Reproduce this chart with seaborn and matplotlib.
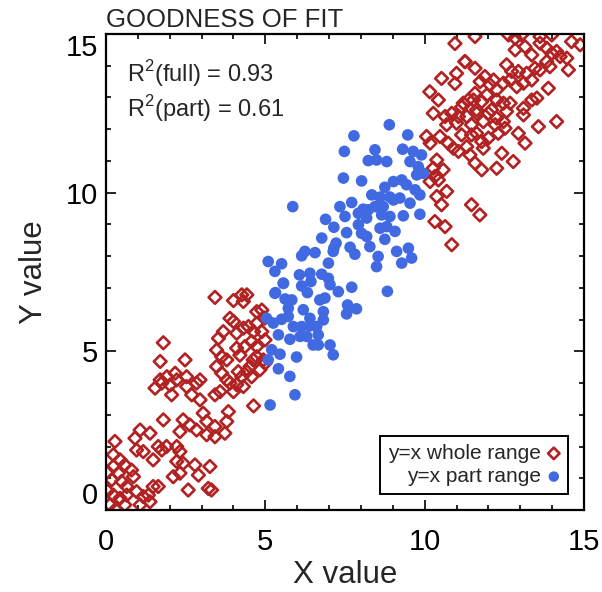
import numpy as np
import matplotlib
matplotlib.use("Agg")
import matplotlib.pyplot as plt
from matplotlib.ticker import MultipleLocator
import seaborn as sns

# whole range points (x, y)
whole_pts = [
    (1.54, 3.84), (1.75, 4.00), (2.06, 3.63), (2.01, 3.94), (2.53, 3.89), (2.69, 3.63), (2.95, 3.47), (2.84, 4.00),
    (3.42, 3.63), (3.58, 3.73), (3.89, 4.00), (4.00, 3.73),
    (1.80, 2.84), (2.42, 2.84), (2.63, 2.68), (2.32, 2.47), (2.84, 2.52), (3.05, 3.05), (3.16, 2.79), (3.16, 2.37),
    (3.42, 2.31), (3.42, 2.63), (3.79, 2.79), (3.84, 3.10), (3.73, 2.42),
    (1.07, 2.52), (1.38, 2.42), (0.91, 2.26), (0.96, 1.89), (1.17, 1.84), (1.48, 1.58), (1.64, 2.00), (1.75, 1.89),
    (1.90, 2.00), (2.22, 2.00), (2.32, 1.84), (2.22, 1.53), (2.42, 1.47),
    (0.28, 2.16), (0.23, 1.74), (0.44, 1.58), (0.59, 1.42), (0.80, 1.26), (0.23, 1.37), (0.39, 1.16), (0.86, 1.05),
    (0.18, 0.95), (0.49, 0.90), (0.65, 0.74), (0.96, 0.58), (0.23, 0.47),
    (0.44, 0.37), (0.65, 0.47), (0.12, 0.16), (0.59, 0.16), (1.17, 0.42), (1.33, 0.47), (1.48, 0.74), (1.64, 0.74),
    (1.38, 0.26), (1.07, 0.16), (0.05, 1.20), (0.05, 0.60), (0.30, 0.02),
    (2.11, 1.05), (2.32, 1.16), (2.79, 1.42), (2.90, 1.10), (2.58, 0.63), (3.26, 1.37), (3.21, 0.68), (3.31, 0.63),
    (3.42, 6.70), (4.00, 6.60), (4.26, 6.78), (4.42, 6.78), (4.31, 6.57), (4.73, 6.25), (4.89, 6.30), (3.89, 6.04),
    (4.00, 5.94), (3.68, 5.62), (3.53, 5.41), (4.10, 5.57), (4.31, 5.73), (4.47, 5.78), (4.73, 5.88), (4.63, 5.62),
    (4.89, 5.62), (4.57, 5.31), (4.73, 5.15), (4.36, 5.15), (4.10, 5.10), (4.73, 4.83), (4.94, 4.73), (1.80, 5.27),
    (1.70, 4.68), (2.48, 4.73), (3.47, 5.04), (3.63, 4.83), (3.79, 4.73), (3.47, 4.52), (3.63, 4.31), (3.79, 4.10),
    (4.15, 4.36), (4.26, 4.20), (4.42, 4.36), (4.52, 4.52), (4.57, 4.20), (1.70, 4.10), (1.91, 4.20), (2.17, 4.31),
    (2.22, 4.10), (2.53, 4.20), (2.95, 4.10), (4.63, 3.28), (4.99, 4.62), (4.83, 4.42), (4.62, 4.73), (4.20, 4.88),
    (4.99, 5.36), (4.99, 6.05), (4.31, 3.89), (4.10, 3.95),
    (10.27, 12.50), (10.64, 12.40), (10.85, 12.50), (11.06, 12.40), (11.32, 12.40), (11.63, 12.50), (12.00, 12.50),
    (12.26, 12.35), (12.57, 12.56), (13.10, 12.45),
    (10.69, 12.14), (11.00, 12.19), (11.47, 12.14), (11.84, 12.24), (12.21, 12.14), (12.47, 12.24),
    (10.06, 11.77), (10.48, 11.77), (11.16, 11.82), (11.47, 11.82), (11.63, 11.87), (12.00, 11.72), (12.31, 11.87),
    (12.52, 12.03), (12.94, 11.87), (13.15, 11.56),
    (10.17, 11.56), (10.74, 11.56), (10.90, 11.40), (11.06, 11.30), (11.32, 11.45), (11.79, 11.61), (11.84, 11.40),
    (11.42, 11.19), (11.58, 10.93), (11.79, 10.72), (12.42, 11.24), (12.78, 10.98), (12.26, 10.77),
    (10.38, 11.03), (10.27, 10.77), (10.58, 10.72), (10.32, 10.51), (10.43, 10.40), (10.17, 10.35), (10.69, 10.04),
    (10.38, 9.88), (10.53, 9.62), (11.47, 9.62), (11.73, 9.30), (10.32, 9.09), (10.64, 8.93), (10.85, 8.36),
    (10.95, 14.70), (11.26, 14.13), (10.53, 13.60), (10.95, 13.44), (11.00, 13.76), (10.16, 13.18), (10.43, 12.92),
    (11.16, 12.70), (11.37, 12.92),
    (11.58, 14.92), (12.63, 14.97), (12.84, 14.87), (13.04, 14.97), (13.62, 14.92), (13.99, 14.97),
    (12.84, 14.50), (13.15, 14.60), (13.36, 14.34), (13.62, 14.71), (13.83, 14.55), (13.99, 14.39), (14.14, 14.45),
    (14.25, 14.29), (14.61, 14.76), (14.88, 14.66),
    (11.27, 14.13), (11.58, 13.92), (11.89, 13.66), (12.16, 13.55), (12.57, 14.03), (12.73, 13.82), (12.94, 13.82),
    (13.20, 13.76), (13.46, 13.92), (13.62, 13.87), (13.83, 14.13), (13.93, 13.97), (14.46, 14.24), (14.51, 13.87),
    (11.74, 13.50), (12.05, 13.40), (12.26, 13.24), (12.47, 13.45), (12.68, 13.55), (12.89, 13.34), (13.10, 13.45),
    (13.36, 13.55), (13.88, 13.29), (13.36, 12.92), (13.52, 12.98),
    (11.58, 13.13), (11.53, 12.92), (11.79, 12.87), (11.95, 13.08), (12.26, 12.92), (12.47, 12.82), (12.68, 12.82),
    (11.21, 12.82), (11.63, 12.61), (12.10, 12.61), (13.10, 12.66), (13.57, 12.08), (14.14, 12.24),
]

# part range points (x, y)
part_pts = [
    (8.89, 12.14), (7.78, 11.79), (9.47, 11.82), (7.48, 11.30), (8.44, 11.35), (8.23, 11.01), (8.49, 11.03),
    (8.81, 10.98), (9.31, 11.37), (9.64, 11.30), (9.90, 11.19), (9.54, 10.98), (9.80, 10.82), (9.96, 10.61),
    (9.75, 10.56), (7.45, 10.46), (8.02, 10.37), (9.02, 10.35), (9.28, 10.40), (9.43, 10.25), (8.75, 10.17),
    (9.70, 10.09), (9.85, 9.93), (8.34, 9.93), (8.60, 9.86), (8.91, 9.86), (7.71, 9.69), (7.34, 9.56),
    (5.86, 9.56), (8.07, 9.48), (8.23, 9.46), (8.44, 9.56), (8.70, 9.56), (9.02, 9.77), (9.22, 9.83),
    (9.54, 9.67), (7.50, 9.25), (6.89, 9.16), (7.92, 9.35), (8.18, 9.20), (8.65, 9.30), (8.91, 9.25),
    (9.33, 9.27), (9.85, 9.32), (7.15, 8.91), (7.55, 8.74), (7.92, 8.99), (8.02, 8.72), (8.60, 8.88),
    (8.81, 8.93), (9.07, 8.78), (6.77, 8.57), (8.75, 8.53), (8.18, 8.62), (8.28, 8.30), (7.22, 8.41),
    (7.15, 8.25), (7.66, 8.28), (7.81, 8.06), (9.12, 8.15), (9.49, 8.25), (9.59, 7.94), (9.28, 7.78),
    (8.54, 7.99), (8.49, 7.67), (6.24, 8.15), (6.56, 8.11), (6.14, 8.01), (7.13, 8.15), (6.98, 7.78),
    (5.09, 7.83), (5.51, 7.76), (5.30, 7.52), (6.77, 7.43), (6.98, 7.30), (6.07, 7.41), (6.40, 7.46),
    (6.43, 7.20), (5.56, 7.15), (6.14, 7.06), (6.32, 6.85), (5.32, 6.85), (7.03, 7.10), (7.29, 6.88),
    (7.71, 7.02), (6.71, 6.62), (6.87, 6.68), (5.62, 6.65), (5.83, 6.62), (5.72, 6.36), (7.58, 6.46),
    (7.86, 6.34), (7.55, 6.18), (6.19, 6.31), (6.40, 6.04), (6.82, 6.25), (6.82, 5.99), (5.04, 6.04),
    (5.25, 5.89), (5.51, 6.01), (5.72, 6.10), (5.88, 5.78), (6.14, 5.78), (6.40, 5.80), (6.61, 5.78),
    (5.41, 5.52), (5.77, 5.38), (6.09, 5.47), (6.30, 5.47), (6.66, 5.52), (6.50, 5.20), (6.66, 5.20),
    (7.03, 5.20), (7.13, 4.89), (5.20, 5.05), (5.46, 4.91), (5.09, 4.73), (5.98, 4.82), (5.41, 4.45),
    (5.77, 4.21), (5.93, 3.63), (5.15, 3.31), (8.83, 6.89), (5.30, 6.83), (5.57, 7.14),
]

r2_full = 0.93
r2_part = 0.61

whole_x, whole_y = np.array(whole_pts).T
part_x, part_y = np.array(part_pts).T

sns.set_style("ticks")
plt.rcParams["font.family"] = ["Liberation Sans", "DejaVu Sans"]
plt.rcParams["mathtext.fontset"] = "custom"
plt.rcParams["mathtext.rm"] = "Liberation Sans"

fig = plt.figure(figsize=(6.02, 5.92), dpi=100)
ax = fig.add_axes([106 / 602, 82 / 592, 478 / 602, 476 / 592])

sns.scatterplot(x=whole_x, y=whole_y, ax=ax, marker="D", s=42, facecolor="none",
                edgecolor="#B22222", linewidth=1.9, label="y=x whole range")
sns.scatterplot(x=part_x, y=part_y, ax=ax, marker="o", s=70, color="#4169E1",
                edgecolor="none", label="y=x part range")

ax.set_xlim(0, 15)
ax.set_ylim(0, 15)
ax.set_xticks([0, 5, 10, 15])
ax.set_yticks([0, 5, 10, 15])
ax.xaxis.set_minor_locator(MultipleLocator(1))
ax.yaxis.set_minor_locator(MultipleLocator(1))
ax.tick_params(which="both", direction="in", top=True, right=True, width=1.2, colors="black")
ax.tick_params(which="major", length=7, labelsize=21)
ax.tick_params(which="minor", length=3.5)
ax.tick_params(axis="x", pad=13)
ax.tick_params(axis="y", pad=6)
for sp in ax.spines.values():
    sp.set_linewidth(1.6)
    sp.set_color("black")

ylabels = ax.get_yticklabels()
ylabels[0].set_va("bottom")
ylabels[-1].set_va("top")

ax.set_xlabel("X value", fontsize=22.5, labelpad=3)
ax.set_ylabel("Y value", fontsize=22.5, labelpad=12)
ax.set_title("GOODNESS OF FIT", loc="left", fontsize=18.5, pad=5)

ax.text(0.044, 0.899, f"R$^2$(full) = {r2_full:.2f}", transform=ax.transAxes, fontsize=17, va="baseline")
ax.text(0.044, 0.826, f"R$^2$(part) = {r2_part:.2f}", transform=ax.transAxes, fontsize=17, va="baseline")

leg = ax.legend(loc="lower right", markerfirst=False, fontsize=15, frameon=True, fancybox=False,
                edgecolor="black", framealpha=1, borderpad=0.4, handlelength=0.6, handletextpad=0.3,
                labelspacing=0.2, borderaxespad=0.75, markerscale=0.9)
leg.get_frame().set_linewidth(1.4)

fig.savefig("out.png", dpi=100)
